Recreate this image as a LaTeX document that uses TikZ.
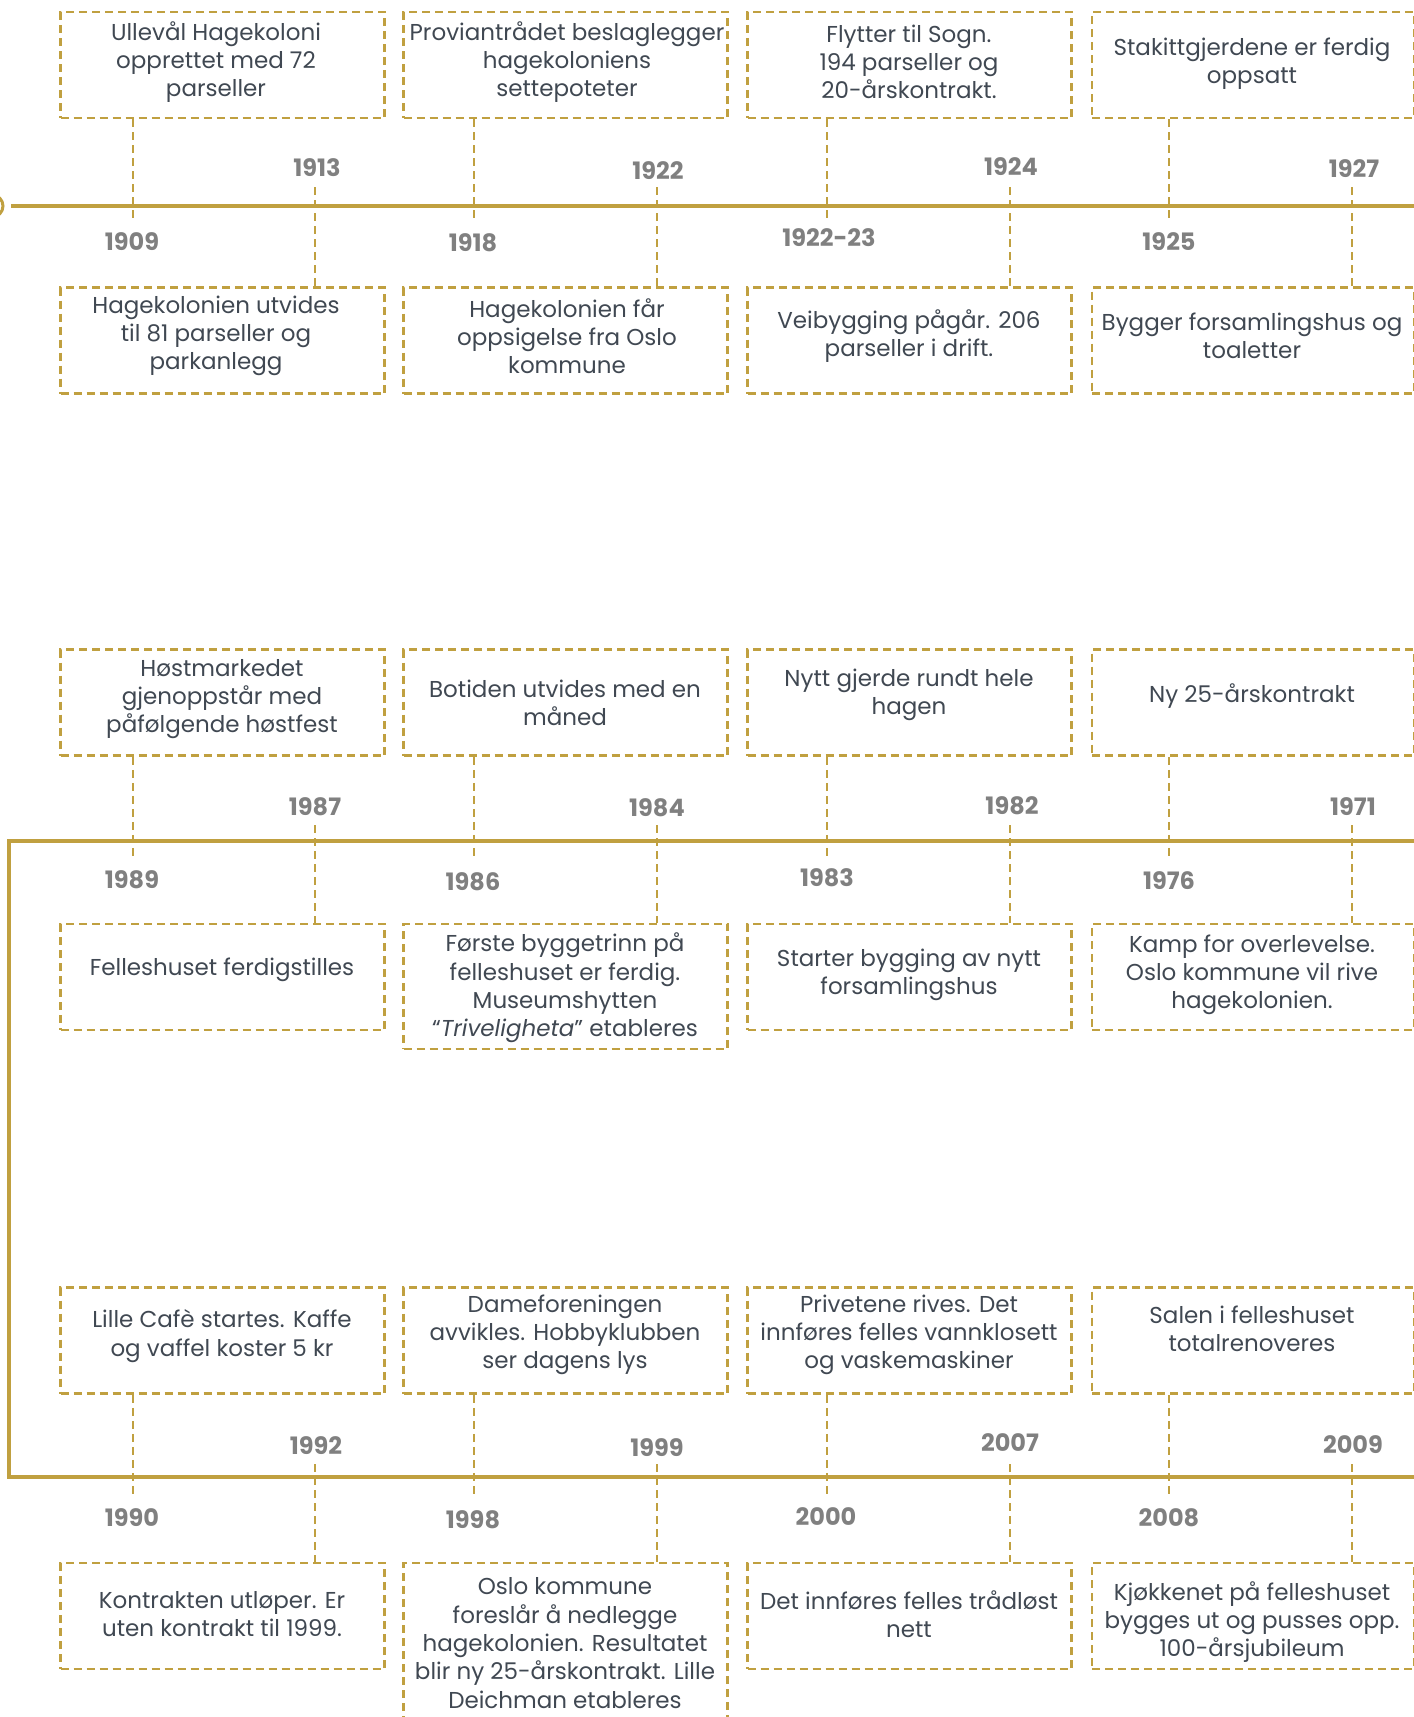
\documentclass[tikz,border=0pt]{standalone}
\usepackage{fontspec}
\setmainfont{Poppins}
\definecolor{gold}{RGB}{192,160,64}
\definecolor{txt}{RGB}{64,72,82}
\definecolor{yr}{RGB}{128,128,128}
\begin{document}
\begin{tikzpicture}[x=1pt,y=-1pt,
  evbox/.style={draw=gold, line width=2.8pt, dash pattern=on 8pt off 5pt, minimum width=324pt, minimum height=106pt, inner sep=0pt},
  evtext/.style={text=txt, font=\fontsize{23}{28.3}\selectfont, align=center, inner sep=0pt},
  year/.style={text=yr, font=\fontsize{24}{28}\selectfont\bfseries\addfontfeatures{Numbers=Monospaced}, inner sep=0pt},
  tick/.style={draw=gold, line width=2.8pt, dash pattern=on 8pt off 5pt},
  axis/.style={draw=gold, line width=3.5pt}]
\useasboundingbox (0,0) rectangle (1414,1717);

% ---------- timelines ----------
\node[circle, draw=gold, line width=3pt, minimum size=22pt, inner sep=0pt] (start) at (-8,206) {};
\coordinate (a1s) at (11,206);
\coordinate (a1e) at (1430,206);
\draw[axis] (a1s) -- (a1e);
\coordinate (a2e) at (1430,841);
\coordinate (a2s) at (9,841);
\coordinate (a3s) at (9,1477);
\coordinate (a3e) at (1430,1477);
\draw[axis] (a2e) -- (a2s) -- (a3s) -- (a3e);

% ---------- boxes ----------
% row 1
\node[evbox] (u11) at (222.5,65) {};
\node[evbox] (u12) at (565.5,65) {};
\node[evbox] (u13) at (909.5,65) {};
\node[evbox, minimum width=322pt] (u14) at (1253,65) {};
\node[evbox] (l11) at (222.5,340.5) {};
\node[evbox] (l12) at (565.5,340.5) {};
\node[evbox] (l13) at (909.5,340.5) {};
\node[evbox, minimum width=322pt] (l14) at (1253,340.5) {};
% row 2
\node[evbox] (u21) at (222.5,702.5) {};
\node[evbox] (u22) at (565.5,702.5) {};
\node[evbox] (u23) at (909.5,702.5) {};
\node[evbox, minimum width=322pt] (u24) at (1253,702.5) {};
\node[evbox] (l21) at (222.5,977) {};
\node[evbox, minimum height=125pt] (l22) at (565.5,986.5) {};
\node[evbox] (l23) at (909.5,977) {};
\node[evbox, minimum width=322pt] (l24) at (1253,977) {};
% row 3
\node[evbox] (u31) at (222.5,1340.5) {};
\node[evbox] (u32) at (565.5,1340.5) {};
\node[evbox] (u33) at (909.5,1340.5) {};
\node[evbox, minimum width=322pt] (u34) at (1253,1340.5) {};
\node[evbox] (l31) at (222.5,1616) {};
\node[evbox, minimum height=200pt] (l32) at (565.5,1663) {};
\node[evbox] (l33) at (909.5,1616) {};
\node[evbox, minimum width=322pt] (l34) at (1253,1616) {};

% ---------- texts ----------
\node[evtext] (tu11) at (216,62) {Ullevål Hagekoloni\\opprettet med 72\\parseller};
\node[evtext] (tu12) at (567,62) {Proviantrådet beslaglegger\\hagekoloniens\\settepoteter};
\node[evtext] (tu13) at (909,62) {Flytter til Sogn.\\194 parseller og\\20-årskontrakt.};
\node[evtext] (tu14) at (1252,64) {Stakittgjerdene er ferdig\\oppsatt};
\node[evtext] (tl11) at (216,336) {Hagekolonien utvides\\til 81 parseller og\\parkanlegg};
\node[evtext] (tl12) at (567,336) {Hagekolonien får\\oppsigelse fra Oslo\\kommune};
\node[evtext] (tl13) at (909,336) {Veibygging pågår. 206\\parseller i drift.};
\node[evtext] (tl14) at (1252,336) {Bygger forsamlingshus og\\toaletter};

\node[evtext] (tu21) at (222,699) {Høstmarkedet\\gjenoppstår med\\påfølgende høstfest};
\node[evtext] (tu22) at (565,703) {Botiden utvides med en\\måned};
\node[evtext] (tu23) at (909,695) {Nytt gjerde rundt hele\\hagen};
\node[evtext] (tu24) at (1252,696) {Ny 25-årskontrakt};
\node[evtext] (tl21) at (222,970) {Felleshuset ferdigstilles};
\node[evtext] (tl22) at (565,988) {Første byggetrinn på\\felleshuset er ferdig.\\Museumshytten\\“\textit{Triveligheta}” etableres};
\node[evtext] (tl23) at (909,975) {Starter bygging av nytt\\forsamlingshus};
\node[evtext] (tl24) at (1252,975) {Kamp for overlevelse.\\Oslo kommune vil rive\\hagekolonien.};

\node[evtext] (tu31) at (222,1336) {Lille Cafè startes. Kaffe\\og vaffel koster 5 kr};
\node[evtext] (tu32) at (565,1335) {Dameforeningen\\avvikles. Hobbyklubben\\ser dagens lys};
\node[evtext] (tu33) at (909,1335) {Privetene rives. Det\\innføres felles vannklosett\\og vaskemaskiner};
\node[evtext] (tu34) at (1252,1329) {Salen i felleshuset\\totalrenoveres};
\node[evtext] (tl31) at (222,1614) {Kontrakten utløper. Er\\uten kontrakt til 1999.};
\node[evtext] (tl32) at (565,1643) {Oslo kommune\\foreslår å nedlegge\\hagekolonien. Resultatet\\blir ny 25-årskontrakt. Lille\\Deichman etableres};
\node[evtext] (tl33) at (909,1614) {Det innføres felles trådløst\\nett};
\node[evtext] (tl34) at (1252,1622) {Kjøkkenet på felleshuset\\bygges ut og pusses opp.\\100-årsjubileum};

% ---------- year labels ----------
\node[year] (y1909) at (132,242) {1909};
\node[year] (y1913) at (317,168) {1913};
\node[year] (y1918) at (473,243) {1918};
\node[year] (y1922) at (658,171) {1922};
\node[year] (y1922b) at (829,238) {1922-23};
\node[year] (y1924) at (1011,167) {1924};
\node[year] (y1925) at (1169,242) {1925};
\node[year] (y1927) at (1354,169) {1927};

\node[year] (y1989) at (132,880) {1989};
\node[year] (y1987) at (315,807) {1987};
\node[year] (y1986) at (473,882) {1986};
\node[year] (y1984) at (657,808) {1984};
\node[year] (y1983) at (827,878) {1983};
\node[year] (y1982) at (1012,806) {1982};
\node[year] (y1976) at (1169,881) {1976};
\node[year] (y1971) at (1353,807) {1971};

\node[year] (y1990) at (132,1518) {1990};
\node[year] (y1992) at (316,1446) {1992};
\node[year] (y1998) at (473,1520) {1998};
\node[year] (y1999) at (657,1448) {1999};
\node[year] (y2000) at (826,1517) {2000};
\node[year] (y2007) at (1010,1443) {2007};
\node[year] (y2008) at (1169,1518) {2008};
\node[year] (y2009) at (1353,1445) {2009};

% ---------- connectors ----------
% row 1
\coordinate (e11) at (133,218);  \draw[tick] (u11.south -| e11) -- (e11);
\coordinate (e12) at (474,218);  \draw[tick] (u12.south -| e12) -- (e12);
\coordinate (e13) at (827,218);  \draw[tick] (u13.south -| e13) -- (e13);
\coordinate (e14) at (1169,218); \draw[tick] (u14.south -| e14) -- (e14);
\coordinate (s11) at (315,187);  \draw[tick] (s11) -- (s11 |- l11.north);
\coordinate (s12) at (657,187);  \draw[tick] (s12) -- (s12 |- l12.north);
\coordinate (s13) at (1010,187); \draw[tick] (s13) -- (s13 |- l13.north);
\coordinate (s14) at (1352,187); \draw[tick] (s14) -- (s14 |- l14.north);
% row 2
\coordinate (e21) at (133,858);  \draw[tick] (u21.south -| e21) -- (e21);
\coordinate (e22) at (474,858);  \draw[tick] (u22.south -| e22) -- (e22);
\coordinate (e23) at (827,858);  \draw[tick] (u23.south -| e23) -- (e23);
\coordinate (e24) at (1169,858); \draw[tick] (u24.south -| e24) -- (e24);
\coordinate (s21) at (315,825);  \draw[tick] (s21) -- (s21 |- l21.north);
\coordinate (s22) at (657,825);  \draw[tick] (s22) -- (s22 |- l22.north);
\coordinate (s23) at (1010,825); \draw[tick] (s23) -- (s23 |- l23.north);
\coordinate (s24) at (1352,825); \draw[tick] (s24) -- (s24 |- l24.north);
% row 3
\coordinate (e31) at (133,1496);  \draw[tick] (u31.south -| e31) -- (e31);
\coordinate (e32) at (474,1496);  \draw[tick] (u32.south -| e32) -- (e32);
\coordinate (e33) at (827,1496);  \draw[tick] (u33.south -| e33) -- (e33);
\coordinate (e34) at (1169,1496); \draw[tick] (u34.south -| e34) -- (e34);
\coordinate (s31) at (315,1464);  \draw[tick] (s31) -- (s31 |- l31.north);
\coordinate (s32) at (657,1464);  \draw[tick] (s32) -- (s32 |- l32.north);
\coordinate (s33) at (1010,1464); \draw[tick] (s33) -- (s33 |- l33.north);
\coordinate (s34) at (1352,1464); \draw[tick] (s34) -- (s34 |- l34.north);
\end{tikzpicture}
\end{document}
